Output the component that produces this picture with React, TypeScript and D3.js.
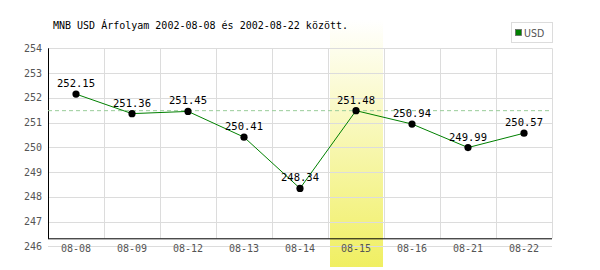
import React from "react";
import * as d3 from "d3";

const title = "MNB USD Árfolyam 2002-08-08 és 2002-08-22 között.";
const dates = ["08-08", "08-09", "08-12", "08-13", "08-14", "08-15", "08-16", "08-21", "08-22"];
const values = [252.15, 251.36, 251.45, 250.41, 248.34, 251.48, 250.94, 249.99, 250.57];
const yTicks = [246, 247, 248, 249, 250, 251, 252, 253, 254];
const highlightDate = "08-15";
const legendLabel = "USD";

const MONO = "'DejaVu Sans Mono', 'Liberation Mono', monospace";

export default function App() {
  const left = 48, right = 552, top = 48.3, bottom = 246.3, axisY = 238.3;
  const x = d3.scaleBand<string>().domain(dates).range([left, right]).padding(0);
  const y = d3.scaleLinear().domain([246, 254]).range([bottom, top]);
  const line = d3
    .line<number>()
    .x((_, i) => (x(dates[i]) as number) + x.bandwidth() / 2)
    .y((v) => y(v));
  const hiIdx = dates.indexOf(highlightDate);
  const hiX = x(highlightDate) as number;
  const bw = x.bandwidth();

  return (
    <svg width={600} height={270} style={{ position: "absolute", left: 0, top: 0, background: "#fff" }}>
      <defs>
        <linearGradient id="hl" x1="0" y1="0" x2="0" y2="1">
          <stop offset="0" stopColor="#ffffff" />
          <stop offset="1" stopColor="#f0ef62" />
        </linearGradient>
      </defs>
      {/* highlight band */}
      <rect x={hiX + 2} y={20} width={bw - 3} height={247} fill="url(#hl)" />
      {/* horizontal grid */}
      {yTicks.map((t) => (
        <line key={"h" + t} x1={left} x2={right} y1={Math.round(y(t)) + 0.5} y2={Math.round(y(t)) + 0.5} stroke="#dcdcdc" />
      ))}
      {/* vertical grid */}
      {dates.map((d) => (
        <line key={"v" + d} x1={(x(d) as number) + bw + 0.5} x2={(x(d) as number) + bw + 0.5} y1={top} y2={axisY} stroke="#dcdcdc" />
      ))}
      {/* axes */}
      <line x1={left + 0.5} x2={left + 0.5} y1={top} y2={axisY + 0.5} stroke="#000" />
      <line x1={left} x2={right} y1={axisY + 0.5} y2={axisY + 0.5} stroke="#000" />
      {/* y tick labels */}
      {yTicks.map((t) => (
        <text key={"yl" + t} x={42} y={y(t)} dy="0.35em" textAnchor="end" fontFamily={MONO} fontSize={10} fill="#555">
          {t}
        </text>
      ))}
      {/* x tick labels */}
      {dates.map((d) => (
        <text key={"xl" + d} x={(x(d) as number) + bw / 2} y={248} dy="0.35em" textAnchor="middle" fontFamily={MONO} fontSize={10} fill="#555">
          {d}
        </text>
      ))}
      {/* reference dashed line */}
      <line x1={left} x2={right} y1={y(values[hiIdx])} y2={y(values[hiIdx])} stroke="#9c9" strokeDasharray="4,3" />
      {/* series line */}
      <path d={line(values) || ""} fill="none" stroke="#008000" strokeWidth={1} />
      {values.map((v, i) => {
        const cx = (x(dates[i]) as number) + bw / 2;
        return (
          <g key={"p" + i}>
            <circle cx={cx} cy={y(v)} r={3.6} fill="#000" />
            <text x={cx} y={y(v) - 7} textAnchor="middle" fontFamily={MONO} fontSize={10.5} fill="#000">
              {v.toFixed(2)}
            </text>
          </g>
        );
      })}
      {/* title */}
      <text x={53} y={29} fontFamily={MONO} fontSize={10} fill="#000">
        {title}
      </text>
      {/* legend */}
      <rect x={511.5} y={22.5} width={41} height={20} fill="#fff" stroke="#dcdcdc" />
      <rect x={515.5} y={29.5} width={6} height={6} fill="#008000" stroke="#666" strokeWidth={0.8} />
      <text x={524} y={37} fontFamily="'DejaVu Sans Condensed', 'DejaVu Sans', sans-serif" fontSize={10.5} fill="#555">
        {legendLabel}
      </text>
    </svg>
  );
}
